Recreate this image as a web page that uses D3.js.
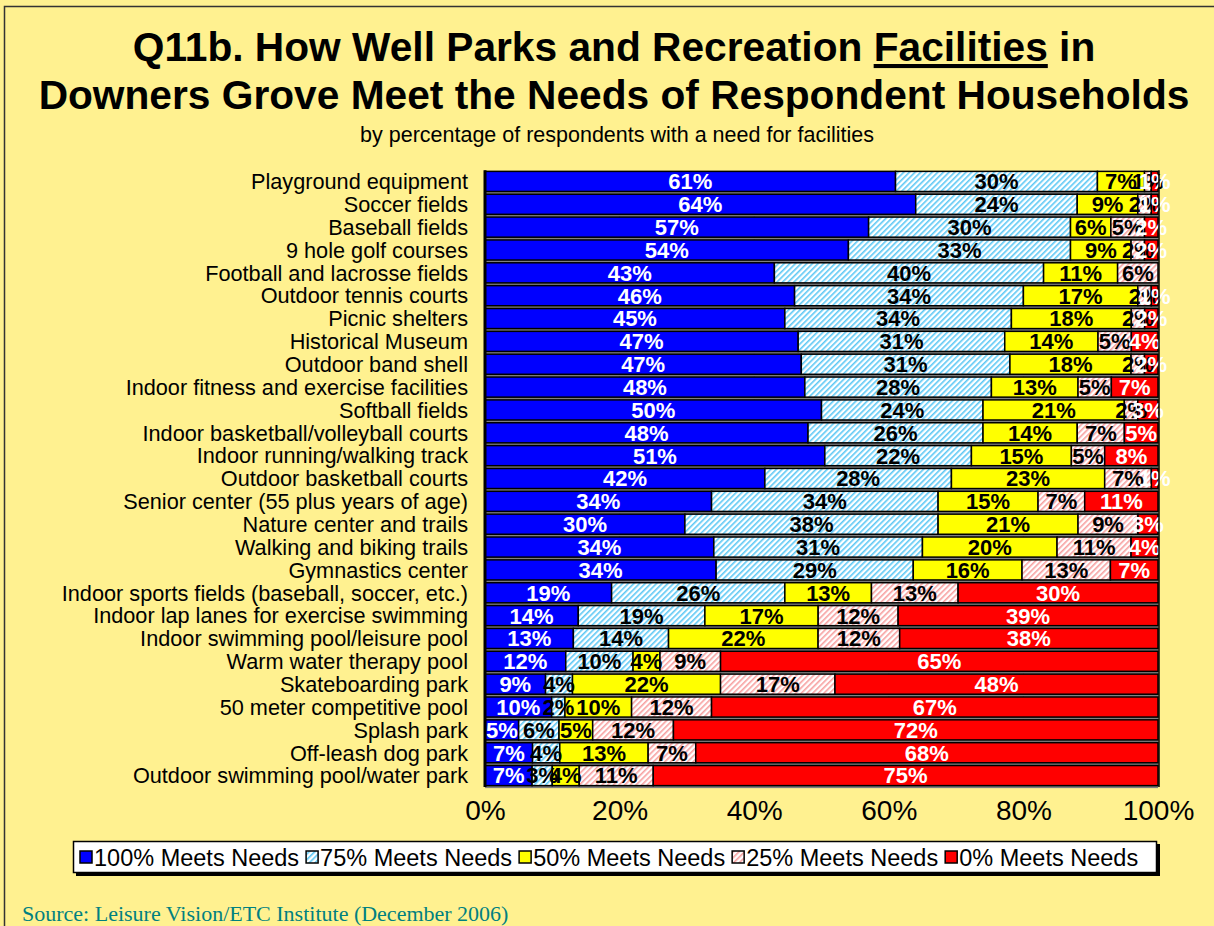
<!DOCTYPE html>
<html><head><meta charset="utf-8">
<script src="https://cdn.jsdelivr.net/npm/d3@7"></script>
<style>body{margin:0;background:#FFF190;}svg{display:block;}</style>
</head><body>
<svg id="c" width="1214" height="926"></svg>
<script>
const categories = ["Playground equipment","Soccer fields","Baseball fields","9 hole golf courses","Football and lacrosse fields","Outdoor tennis courts","Picnic shelters","Historical Museum","Outdoor band shell","Indoor fitness and exercise facilities","Softball fields","Indoor basketball/volleyball courts","Indoor running/walking track","Outdoor basketball courts","Senior center (55 plus years of age)","Nature center and trails","Walking and biking trails","Gymnastics center","Indoor sports fields (baseball, soccer, etc.)","Indoor lap lanes for exercise swimming","Indoor swimming pool/leisure pool","Warm water therapy pool","Skateboarding park","50 meter competitive pool","Splash park","Off-leash dog park","Outdoor swimming pool/water park"];
const meets100 = [61,64,57,54,43,46,45,47,47,48,50,48,51,42,34,30,34,34,19,14,13,12,9,10,5,7,7];
const meets75  = [30,24,30,33,40,34,34,31,31,28,24,26,22,28,34,38,31,29,26,19,14,10,4,2,6,4,3];
const meets50  = [7,9,6,9,11,17,18,14,18,13,21,14,15,23,15,21,20,16,13,17,22,4,22,10,5,13,4];
const meets25  = [1,2,5,2,6,2,2,5,2,5,2,7,5,7,7,9,11,13,13,12,12,9,17,12,12,7,11];
const meets0   = [1,1,2,2,0,1,2,4,2,7,3,5,8,1,11,3,4,7,30,39,38,65,48,67,72,68,75];
const seriesNames = ["100% Meets Needs","75% Meets Needs","50% Meets Needs","25% Meets Needs","0% Meets Needs"];
const tickValues = [0,0.2,0.4,0.6,0.8,1];
const tickLabels = ["0%","20%","40%","60%","80%","100%"];

const keys = ["m100","m75","m50","m25","m0"];
const rows = categories.map((c,i)=>({cat:c,m100:meets100[i],m75:meets75[i],m50:meets50[i],m25:meets25[i],m0:meets0[i]}));

const svg = d3.select("#c");
const font = "'Liberation Sans', Arial, sans-serif";

// patterns
const defs = svg.append("defs");
function hatch(id, bg, fg){
  const p = defs.append("pattern").attr("id",id).attr("patternUnits","userSpaceOnUse")
    .attr("width",4).attr("height",4).attr("patternTransform","rotate(45)");
  p.append("rect").attr("width",4).attr("height",4).attr("fill",bg);
  p.append("rect").attr("x",0).attr("y",0).attr("width",1.6).attr("height",4).attr("fill",fg);
}
hatch("hBlue","#ffffff","#5CC8F5");
hatch("hPink","#ffffff","#F7A0A0");
const fills = {m100:"#0000FF",m75:"url(#hBlue)",m50:"#FFFF00",m25:"url(#hPink)",m0:"#FF0000"};
const labelColors = {m100:"#ffffff",m75:"#000000",m50:"#000000",m25:"#000000",m0:"#ffffff"};

// outer border
svg.append("rect").attr("x",4.5).attr("y",6.5).attr("width",1230).attr("height",940)
  .attr("fill","#FFF190").attr("stroke","#333").attr("stroke-width",1.5);

// title
const title = svg.append("g").attr("font-family",font).attr("font-weight","bold").attr("font-size",40.7).attr("text-anchor","middle").attr("fill","#000");
const t1 = title.append("text").attr("x",614).attr("y",61);
t1.append("tspan").text("Q11b. How Well Parks and Recreation ");
t1.append("tspan").attr("text-decoration","underline").text("Facilities");
t1.append("tspan").text(" in");
title.append("text").attr("x",614).attr("y",109).text("Downers Grove Meet the Needs of Respondent Households");
svg.append("text").attr("x",617).attr("y",142).attr("text-anchor","middle").attr("font-family",font)
  .attr("font-size",21.5).text("by percentage of respondents with a need for facilities");

// scales
const x = d3.scaleLinear().domain([0,1]).range([485,1158]);
const y = d3.scaleBand().domain(categories).range([170,787]).paddingInner(0.12).paddingOuter(0.06);

// plot background
svg.append("rect").attr("x",x(0)).attr("y",y(categories[0])).attr("width",x(1)-x(0))
  .attr("height",y(categories[categories.length-1])+y.bandwidth()-y(categories[0])).attr("fill","#ffffff");
// gridlines
svg.append("g").selectAll("line").data(tickValues.slice(1,-1)).join("line")
  .attr("x1",d=>x(d)).attr("x2",d=>x(d)).attr("y1",y(categories[0])).attr("y2",787)
  .attr("stroke","#808080").attr("stroke-width",1);
// bar shadows
svg.append("g").selectAll("rect").data(rows).join("rect")
  .attr("x",x(0)).attr("y",d=>y(d.cat)+2.5).attr("width",x(1)-x(0)).attr("height",y.bandwidth())
  .attr("fill","#808080");

const stacked = d3.stack().keys(keys).offset(d3.stackOffsetExpand)(rows);
const gBars = svg.append("g");
stacked.forEach(s=>{
  gBars.append("g").selectAll("rect").data(s).join("rect")
    .attr("x",d=>x(d[0])).attr("y",d=>y(d.data.cat)).attr("width",d=>Math.max(0,x(d[1])-x(d[0])))
    .attr("height",y.bandwidth()).attr("fill",fills[s.key]).attr("stroke","#000").attr("stroke-width",1.5);
});
// labels
const gLab = svg.append("g").attr("font-family",font).attr("font-weight","bold").attr("font-size",22).attr("text-anchor","middle");
stacked.forEach(s=>{
  gLab.append("g").selectAll("text").data(s.filter(d=>d.data[s.key]>0)).join("text")
    .attr("x",d=>(x(d[0])+x(d[1]))/2).attr("y",d=>y(d.data.cat)+y.bandwidth()/2).attr("dy","0.36em")
    .attr("fill",labelColors[s.key]).text(d=>d.data[s.key]+"%");
});

// left axis line
svg.append("line").attr("x1",x(0)).attr("x2",x(0)).attr("y1",y(categories[0])-1).attr("y2",787)
  .attr("stroke","#000").attr("stroke-width",3);
svg.append("line").attr("x1",x(1)+1).attr("x2",x(1)+1).attr("y1",y(categories[0])-1).attr("y2",787)
  .attr("stroke","#000").attr("stroke-width",1.5);

// category labels
svg.append("g").attr("font-family",font).attr("font-size",21.7).attr("text-anchor","end")
  .selectAll("text").data(categories).join("text")
  .attr("x",468).attr("y",d=>y(d)+y.bandwidth()/2).attr("dy","0.36em").text(d=>d);

// x tick labels
const xAxis = d3.axisBottom(x).tickValues(tickValues).tickFormat((d,i)=>tickLabels[i]).tickSize(0).tickPadding(0);
const ga = svg.append("g").attr("transform","translate(0,800)").call(xAxis);
ga.select(".domain").remove();
ga.selectAll("text").attr("font-family",font).attr("font-size",28).attr("fill","#000").attr("dy","0.72em");

// legend
const lg = svg.append("g");
lg.append("rect").attr("x",76).attr("y",844).attr("width",1084).attr("height",32).attr("fill","#000");
lg.append("rect").attr("x",73.5).attr("y",841.5).attr("width",1083).attr("height",31).attr("fill","#fff").attr("stroke","#000").attr("stroke-width",1.5);
let lx = 80;
seriesNames.forEach((n,i)=>{
  lg.append("rect").attr("x",lx).attr("y",851).attr("width",12).attr("height",12)
    .attr("fill",fills[keys[i]]).attr("stroke","#000").attr("stroke-width",1.5);
  const t = lg.append("text").attr("x",lx+14).attr("y",866).attr("font-family",font).attr("font-size",23.5).text(n);
  lx += 14 + t.node().getComputedTextLength() + 7;
});

// source
svg.append("text").attr("x",22).attr("y",921).attr("font-family","'Liberation Serif','Times New Roman',serif")
  .attr("font-size",22).attr("fill","#008080").text("Source:  Leisure Vision/ETC Institute (December 2006)");
</script>
</body></html>
